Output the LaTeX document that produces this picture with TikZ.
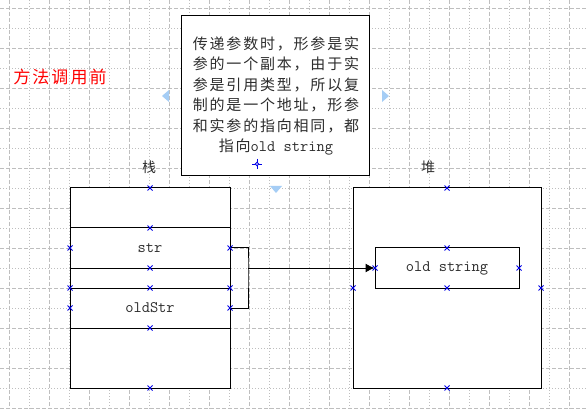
\documentclass[tikz,border=0pt]{standalone}
\usepackage{fontspec}
\newfontfamily\cjk{Noto Sans CJK SC}
\newfontfamily\cjkls[LetterSpace=12]{Noto Sans CJK SC}
\usetikzlibrary{arrows.meta}
\definecolor{gridc}{RGB}{190,190,190}
\definecolor{txtc}{RGB}{45,45,45}
\definecolor{markc}{RGB}{0,0,230}
\definecolor{handlec}{RGB}{165,205,245}
\begin{document}
\begin{tikzpicture}[x=1pt,y=-1pt,
  griddash/.style={gridc,line width=0.8pt,dash pattern=on 4pt off 2pt},
  griddot/.style={gridc,line width=0.8pt,dash pattern=on 1pt off 2pt},
  box/.style={draw=black,line width=1pt,fill=white,rectangle,inner sep=0pt},
  cell/.style={draw=black,line width=1pt,rectangle,inner sep=0pt,text=txtc,font=\ttfamily\fontsize{16}{18}\selectfont},
  conn/.style={black,line width=1pt},
  xm/.style={markc,line width=0.8pt}]
\useasboundingbox (0,0) rectangle (587,409);
\fill[white] (0,0) rectangle (587,409);
% grid
\foreach \x in {9,49,...,569} \draw[griddash] (\x,0) -- (\x,409);
\foreach \x in {29,69,...,549} \draw[griddot] (\x,0) -- (\x,409);
\foreach \y in {8,48,...,408} \draw[griddash] (0,\y) -- (587,\y);
\foreach \y in {28,68,...,388} \draw[griddot] (0,\y) -- (587,\y);
% title
\node[text=red,font=\cjkls\fontsize{17}{20}\selectfont,inner sep=0pt] (title) at (60,77) {方法调用前};
% note box
\node[box,minimum width=188pt,minimum height=160pt] (note) at (275,96) {};
\node[text=txtc,align=center,inner sep=0pt,font=\cjkls\fontsize{15}{20.4}\selectfont] (notetxt) at (276,96)
 {传递参数时，形参是实\\参的一个副本，由于实\\参是引用类型，所以复\\制的是一个地址，形参\\和实参的指向相同，都\\指向{\ttfamily\fontsize{16}{20.4}\selectfont old string}};
% labels
\node[text=txtc,font=\cjk\fontsize{14}{16}\selectfont,inner sep=0pt] (zhan) at (149,167) {栈};
\node[text=txtc,font=\cjk\fontsize{14}{16}\selectfont,inner sep=0pt] (dui) at (428,167) {堆};
% stack
\node[box,minimum width=160pt,minimum height=200pt] (stack) at (150,288) {};
\node[cell,minimum width=160pt,minimum height=40pt] (str) at (150,248) {str};
\node[cell,minimum width=160pt,minimum height=40pt] (oldStr) at (150,308) {oldStr};
% heap
\node[box,minimum width=188pt,minimum height=200pt] (heap) at (447,288) {};
\node[cell,minimum width=144pt,minimum height=40pt] (old) at (447,268) {old string};
% connectors
\coordinate (j) at (248,268);
\draw[conn] (str.east) -| (j) |- (oldStr.east);
\draw[conn,-{Latex[length=9pt,width=9pt]}] (j) -- (old.west);
% connection point marks
\foreach \p in {(150,188),(150,228),(150,268),(150,288),(150,328),(150,388),
  (70,248),(70,288),(70,308),(230,248),(230,288),(230,308),
  (447,188),(447,248),(375,268),(519,268),(447,288),(353,288),(541,288),(447,388)}
  \draw[xm] \p ++(-2.5,-2.5) -- ++(5,5) \p ++(-2.5,2.5) -- ++(5,-5);
% selection handles
\fill[handlec] (162,96) -- (169,90) -- (169,102) -- cycle;
\fill[handlec] (389,96) -- (382,90) -- (382,102) -- cycle;
\fill[handlec] (276,193) -- (270,186) -- (282,186) -- cycle;
\draw[markc,line width=0.8pt] (252,164) -- (262,164) (257,159) -- (257,169);
\draw[markc,line width=0.8pt,fill=white] (257,164) circle (1.8pt);
\end{tikzpicture}
\end{document}
